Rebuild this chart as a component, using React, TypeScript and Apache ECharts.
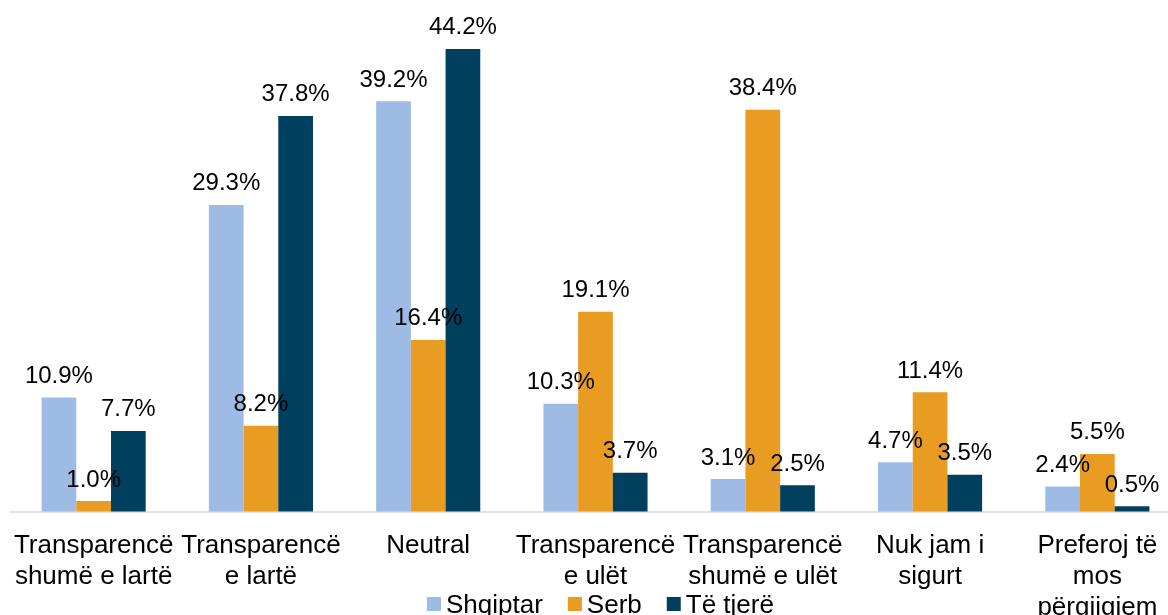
import React, { useEffect, useRef } from "react";
import * as echarts from "echarts";

const categories = [
  "Transparencë\nshumë e lartë",
  "Transparencë\ne lartë",
  "Neutral",
  "Transparencë\ne ulët",
  "Transparencë\nshumë e ulët",
  "Nuk jam i\nsigurt",
  "Preferoj të\nmos\npërgjigjem",
];
const shqiptar = [10.9, 29.3, 39.2, 10.3, 3.1, 4.7, 2.4];
const serb = [1.0, 8.2, 16.4, 19.1, 38.4, 11.4, 5.5];
const teTjere = [7.7, 37.8, 44.2, 3.7, 2.5, 3.5, 0.5];
const seriesNames = ["Shqiptar", "Serb", "Të tjerë"];
const colors = ["#9dbbe4", "#e99c22", "#003f5e"];

const FONT = "'Liberation Sans', Arial, sans-serif";

export default function App() {
  const ref = useRef<HTMLDivElement>(null);
  useEffect(() => {
    if (!ref.current) return;
    const chart = echarts.init(ref.current, undefined, { renderer: "svg" });
    const mk = (name: string, data: number[], color: string) => ({
      name,
      type: "bar",
      data,
      barWidth: 34.7,
      barGap: "0%",
      itemStyle: { color },
      label: {
        show: true,
        position: "top",
        distance: 11,
        color: "#000",
        fontSize: 24,
        fontFamily: FONT,
        formatter: (p: any) => p.value.toFixed(1) + "%",
      },
    });
    chart.setOption({
      animation: false,
      textStyle: { fontFamily: FONT },
      grid: {
        left: 10,
        right: -13,
        top: 40.6,
        bottom: 103.5,
        containLabel: false,
        outerBoundsMode: "none",
      },
      legend: {
        data: seriesNames,
        top: 591,
        left: 427,
        padding: 0,
        icon: "rect",
        itemWidth: 14,
        itemHeight: 14,
        itemGap: 25,
        textStyle: { fontSize: 26, color: "#000", fontFamily: FONT },
      },
      xAxis: {
        type: "category",
        data: categories,
        axisLine: { lineStyle: { color: "#d9d9d9", width: 1.5 } },
        axisTick: { show: false },
        axisLabel: {
          interval: 0,
          fontSize: 26,
          lineHeight: 31,
          color: "#000",
          margin: 17,
          fontFamily: FONT,
          hideOverlap: false,
        },
      },
      yAxis: {
        type: "value",
        min: 0,
        max: 45,
        show: false,
        splitLine: { show: false },
      },
      series: [
        mk(seriesNames[0], shqiptar, colors[0]),
        mk(seriesNames[1], serb, colors[1]),
        mk(seriesNames[2], teTjere, colors[2]),
      ],
    });
    return () => chart.dispose();
  }, []);
  return (
    <div
      ref={ref}
      style={{ position: "fixed", left: 0, top: 0, width: 1168, height: 615 }}
    />
  );
}
